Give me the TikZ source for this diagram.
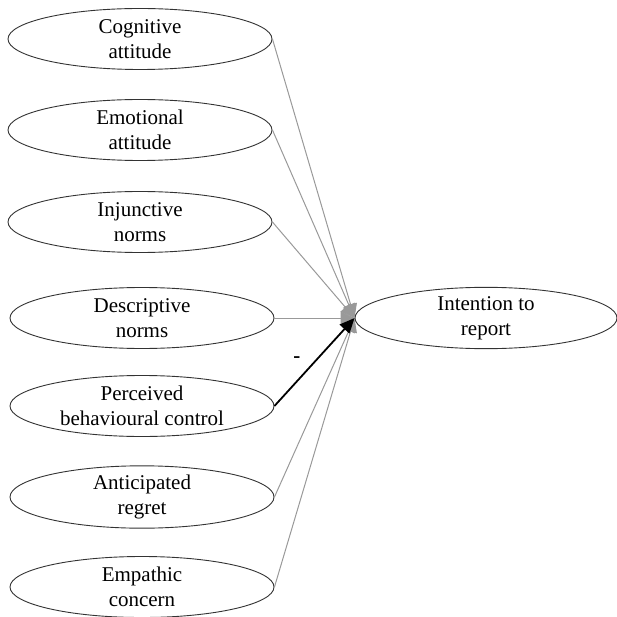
\documentclass[tikz,border=0pt]{standalone}
\usepackage{fontspec}
\setmainfont{Liberation Serif}
\usetikzlibrary{shapes.geometric,arrows.meta}
\begin{document}
\begin{tikzpicture}[x=1pt,y=-1pt,
  oval/.style={ellipse,draw=black!80,line width=0.9pt,minimum width=264pt,minimum height=61pt,inner sep=0pt,align=center,font=\fontsize{21}{25}\selectfont},
  grayarrow/.style={draw=black!40,line width=1pt,-{Triangle[width=13pt,length=14pt,color=black!40,fill=black!40]}},
  blackarrow/.style={draw=black,line width=1.8pt,-{Triangle[width=13pt,length=15pt]}}]
\useasboundingbox (0,0) rectangle (616,617);
\node[oval] (cog) at (140,39) {Cognitive\\attitude};
\node[oval] (emo) at (140,130) {Emotional\\attitude};
\node[oval] (inj) at (140,222) {Injunctive\\norms};
\node[oval] (des) at (142,318) {Descriptive\\norms};
\node[oval] (pbc) at (142,406) {Perceived\\behavioural control};
\node[oval] (ant) at (142,497) {Anticipated\\regret};
\node[oval] (emp) at (142,587) {Empathic\\concern};
\node[oval,minimum width=262pt] (int) at (486,318) {Intention to\\report};
\draw[grayarrow] (cog.east) -- (int.west);
\draw[grayarrow] (emo.east) -- (int.west);
\draw[grayarrow] (inj.east) -- (int.west);
\draw[grayarrow] (des.east) -- (int.west);
\draw[grayarrow] (ant.east) -- (int.west);
\draw[grayarrow] (emp.east) -- (int.west);
\draw[blackarrow] (pbc.east) -- node[pos=0.45,above left,xshift=-6pt,font=\fontsize{21}{25}\bfseries] (minus) {-} (int.west);
\end{tikzpicture}
\end{document}
